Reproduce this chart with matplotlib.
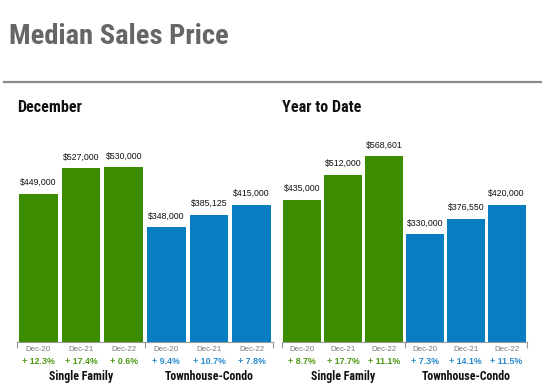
import matplotlib.pyplot as plt
import matplotlib.font_manager as fm

# data
periods = ["Dec-20", "Dec-21", "Dec-22"]
groups = ["Single Family", "Townhouse-Condo"]

dec_single = [449000, 527000, 530000]
dec_condo = [348000, 385125, 415000]
dec_single_chg = ["+ 12.3%", "+ 17.4%", "+ 0.6%"]
dec_condo_chg = ["+ 9.4%", "+ 10.7%", "+ 7.8%"]

ytd_single = [435000, 512000, 568601]
ytd_condo = [330000, 376550, 420000]
ytd_single_chg = ["+ 8.7%", "+ 17.7%", "+ 11.1%"]
ytd_condo_chg = ["+ 7.3%", "+ 14.1%", "+ 11.5%"]

GREEN = "#3c8c00"
BLUE = "#087dc1"
GREEN_TXT = "#4f9a14"
BLUE_TXT = "#2a8bcd"

names = {f.name for f in fm.fontManager.ttflist}
NARROW = "Roboto"
for cand in ["Roboto Condensed", "Liberation Sans Narrow", "Open Sans Condensed"]:
    if cand in names:
        NARROW = cand
        break
SANS = "Liberation Sans"

W, H = 542, 386
fig = plt.figure(figsize=(W / 100, H / 100), dpi=100)


def fx(px):
    return px / W


def fy(py):
    return 1 - py / H


fig.text(fx(9), fy(36), "Median Sales Price", fontsize=20.5, fontweight="bold",
         family=NARROW, color="#666666", va="center", ha="left")
fig.add_artist(plt.Line2D([fx(4), fx(542)], [fy(81.5), fy(81.5)], color="#8a8a8a", lw=1.6))


def panel(x0, x1, title, single, condo, s_chg, c_chg, ymax, bw):
    ax = fig.add_axes([fx(x0), fy(342), fx(x1 - x0), (342 - 120) / H])
    vals = single + condo
    cols = [GREEN] * 3 + [BLUE] * 3
    xs = range(len(vals))
    bars = ax.bar(xs, vals, width=bw, color=cols, linewidth=0)
    for b, v in zip(bars, vals):
        ax.annotate(f"${v:,.0f}", (b.get_x() + b.get_width() / 2, v), xytext=(0, 5),
                    textcoords="offset points", ha="center", va="bottom",
                    fontsize=6.3, family=SANS, color="#111111")
    ax.set_xlim(-0.5, 5.5)
    ax.set_ylim(0, ymax)
    for s in ["top", "right", "left"]:
        ax.spines[s].set_visible(False)
    ax.spines["bottom"].set_color("#999999")
    ax.spines["bottom"].set_linewidth(0.8)
    ax.set_yticks([])
    ax.set_xticks([-0.5, 2.5, 5.5])
    ax.set_xticklabels([])
    ax.tick_params(axis="x", length=4, width=0.8, color="#999999")
    trans = ax.get_xaxis_transform()
    for i in xs:
        ax.text(i, -0.018, periods[i % 3], transform=trans, ha="center", va="top",
                fontsize=5.6, family=SANS, color="#777777")
        chg = (s_chg + c_chg)[i]
        ax.text(i, -0.068, chg, transform=trans, ha="center", va="top",
                fontsize=6.4, fontweight="bold", family=SANS,
                color=GREEN_TXT if i < 3 else BLUE_TXT)
    for g, name in enumerate(groups):
        ax.text(1 + 3 * g, -0.125, name, transform=trans, ha="center", va="top",
                fontsize=8.6, fontweight="bold", family=NARROW, color="#111111")
    fig.text(fx(x0), fy(107), title, fontsize=11.6, fontweight="bold",
             family=NARROW, color="#111111", va="center", ha="left")


panel(17, 273, "December", dec_single, dec_condo, dec_single_chg, dec_condo_chg,
      673500, 0.91)
panel(282, 527, "Year to Date", ytd_single, ytd_condo, ytd_single_chg, ytd_condo_chg,
      680000, 0.93)

fig.savefig("out.png", dpi=100, facecolor="white")
